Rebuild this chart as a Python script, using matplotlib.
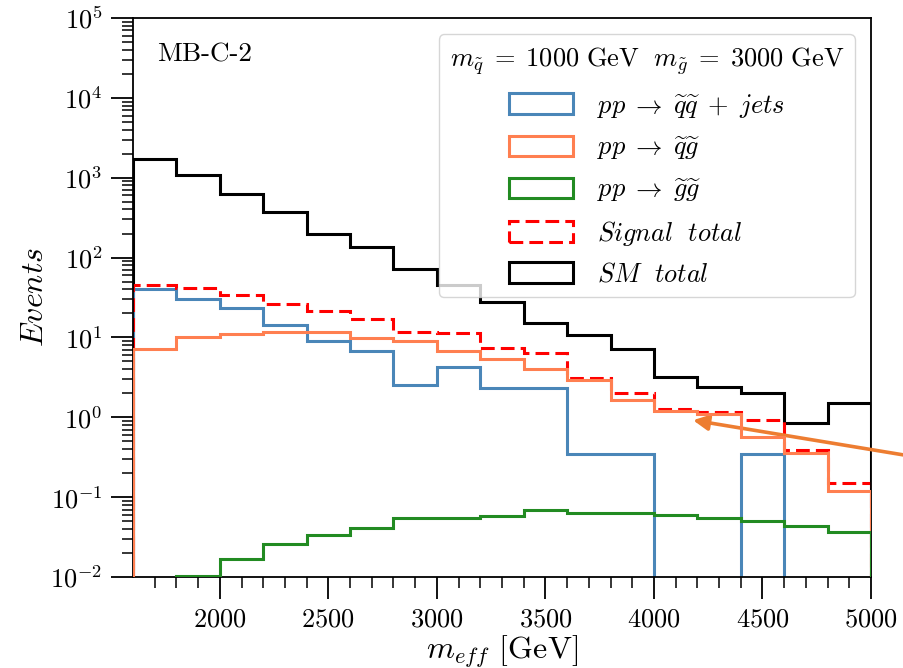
import numpy as np
import matplotlib
matplotlib.use("Agg")
import matplotlib.pyplot as plt
from matplotlib.patches import Patch

plt.rcParams['font.family'] = 'serif'
plt.rcParams['font.serif'] = ['cmr10', 'DejaVu Serif']
plt.rcParams['mathtext.fontset'] = 'cm'
plt.rcParams['axes.formatter.use_mathtext'] = True

# bin edges in m_eff [GeV]
edges = np.arange(1600, 5001, 200)

sm_total = [1700, 1070, 620, 370, 200, 135, 71, 45, 28, 15.3, 10.6, 7.1, 3.2, 2.4, 2.0, 0.84, 1.53]
sq_sq_jets = [40, 30.6, 23.6, 14.3, 9.1, 6.8, 2.54, 4.26, 2.35, 2.35, 0.344, 0.344, 0, 0, 0.344, 0, 0]
sq_gl = [7.1, 10.1, 11.1, 11.7, 11.8, 9.7, 9.1, 6.8, 5.3, 4.07, 2.9, 1.63, 1.2, 1.09, 0.57, 0.36, 0.12]
gl_gl = [0, 0.0102, 0.017, 0.0257, 0.0333, 0.0416, 0.0556, 0.0556, 0.058, 0.069, 0.064, 0.064,
         0.0605, 0.055, 0.050, 0.043, 0.0367]
signal_total = [46, 42, 34, 26.5, 21.4, 16.9, 11.8, 11.5, 7.4, 6.45, 3.1, 2.0, 1.28, 1.17, 0.92, 0.39, 0.152]

labels = [r'$pp \;\rightarrow\; \widetilde{q}\widetilde{q} \;+\; jets$',
          r'$pp \;\rightarrow\; \widetilde{q}\widetilde{g}$',
          r'$pp \;\rightarrow\; \widetilde{g}\widetilde{g}$',
          r'$Signal\ \ total$',
          r'$SM\ \ total$']
colors = ['#4a86b8', '#ff7f50', '#228b22', '#ff0000', '#000000']
styles = ['-', '-', '-', (0, (4.5, 2.0)), '-']
series = [sq_sq_jets, sq_gl, gl_gl, signal_total, sm_total]
zorders = [2.4, 3.2, 3.3, 2.45, 2.3]

W, H = 904, 668
fig = plt.figure(figsize=(W / 100, H / 100), dpi=100)
ax = fig.add_axes([133 / W, (H - 577) / H, (871 - 133) / W, (577 - 18) / H])

lw = 2.2
for vals, c, ls, z in zip(series, colors, styles, zorders):
    ax.stairs(vals, edges, baseline=0, color=c, linewidth=lw, linestyle=ls, zorder=z)

ax.set_yscale('log')
ax.set_xlim(1600, 5000)
ax.set_ylim(1e-2, 1e5)
ax.set_xticks([2000, 2500, 3000, 3500, 4000, 4500, 5000])
ax.set_xticks(np.arange(1700, 5000, 100), minor=True)

ax.tick_params(axis='both', which='major', length=16, width=1.3, labelsize=19, pad=6)
ax.tick_params(axis='both', which='minor', length=8, width=1.1)
for s in ax.spines.values():
    s.set_linewidth(1.3)

ax.set_xlabel(r'$m_{eff}$ [GeV]', fontsize=23, labelpad=1.5)
ax.set_ylabel(r'$Events$', fontsize=23, labelpad=1)

ax.text(0.033, 0.955, 'MB-C-2', transform=ax.transAxes, fontsize=19.5, va='top', ha='left')

handles = [Patch(facecolor='none', edgecolor=c, linewidth=lw, linestyle=ls)
           for c, ls in zip(colors, styles)]
leg = ax.legend(handles, labels, loc='upper right', fontsize=19,
                title=r'$m_{\tilde{q}} \;=\; 1000\ \mathrm{GeV}\ \ m_{\tilde{g}} \;=\; 3000\ \mathrm{GeV}$',
                title_fontsize=19, handlelength=2.4, handleheight=0.8,
                handletextpad=0.9, labelspacing=0.56, borderaxespad=0.62,
                framealpha=0.8, fancybox=True)

ax.annotate('', xy=(4180, 0.92), xycoords='data',
            xytext=(1.0, 1 - 455 / H), textcoords='figure fraction',
            arrowprops=dict(arrowstyle='-|>,head_length=0.9,head_width=0.45',
                            color='#ed7d31', lw=2.6, shrinkA=0, shrinkB=0),
            annotation_clip=False)

fig.savefig('out.png', dpi=100)
